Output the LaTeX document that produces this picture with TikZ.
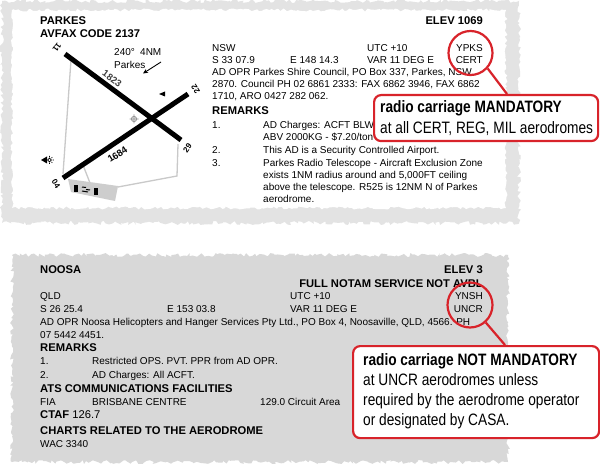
\documentclass[tikz,border=0pt]{standalone}
\usepackage{fontspec}
\setmainfont{Liberation Sans}
\newfontfamily\narrowfont[FakeStretch=0.83]{Liberation Sans}
\usetikzlibrary{decorations.pathmorphing,arrows.meta}
\definecolor{calred}{HTML}{D8232A}
\definecolor{bandgray}{HTML}{E3E3E3}
\definecolor{panelgray}{HTML}{D8D8D8}
\definecolor{lightline}{HTML}{C9C9C9}
\definecolor{aprongray}{HTML}{CDCDCD}
\tikzset{
  txt/.style={anchor=base west, inner sep=0pt, font=\fontsize{10bp}{12bp}\selectfont},
  txtr/.style={txt, anchor=base east},
  hd/.style={anchor=base west, inner sep=0pt, font=\fontsize{11.2bp}{13bp}\selectfont\bfseries},
  hdr/.style={hd, anchor=base east},
  rwy/.style={line width=5bp, black},
  rwylbl/.style={inner sep=0pt, font=\fontsize{8bp}{9bp}\selectfont\bfseries},
  lenlbl/.style={inner sep=0pt, font=\fontsize{9.5bp}{10bp}\selectfont\bfseries},
  grayline/.style={draw=lightline, line width=1.3bp},
  callcirc/.style={circle, draw=calred, line width=2.2bp, inner sep=0pt},
  callbox/.style={draw=calred, fill=white, line width=2.2bp, rounded corners=7bp, inner sep=0pt, anchor=north west},
  calltxt/.style={anchor=base west, inner sep=0pt, font=\narrowfont\fontsize{16.5bp}{20bp}\selectfont},
  conn/.style={draw=calred, line width=2.2bp},
  ragged/.style={decorate, decoration={random steps, segment length=2.5bp, amplitude=#1}},
}
\begin{document}
\begin{tikzpicture}[x=1bp,y=-1bp]
\useasboundingbox (0,0) rectangle (600,465);
\fill[white] (0,0) rectangle (600,465);
% panels
\fill[bandgray, ragged=2bp] (2,1) rectangle (519,223);
\fill[white, ragged=1.5bp] (12,10) rectangle (506,208);
\fill[panelgray, ragged=2bp] (12,255) rectangle (508,462);

% ---------- aerodrome diagram ----------
\draw[grayline] (71,60) -- (63,174);
\draw[grayline] (83,165) -- (90,183);
\draw[grayline] (178,144) -- (177,176) -- (118,187);
\fill[aprongray] (68,179) -- (118,186) -- (115,201) -- (71,192) -- cycle;
\fill[black] (74,185) rectangle (77.5,192);
\fill[black] (94,188) rectangle (98,195);
\draw[black, line width=1bp] (82,187) -- (86,187.5) (86,189.5) -- (90,190) (82,191) -- (88,192);
\draw[rwy] (65,54) -- (181,140);
\draw[rwy] (63,178) -- (188,94);
\node[rwylbl, rotate=-126] (r11) at (57,47.5) {11};
\node[rwylbl, rotate=54] (r29) at (187.5,148) {29};
\node[rwylbl, rotate=123] (r22) at (195.5,89.5) {22};
\node[rwylbl, rotate=-57] (r04) at (56,184) {04};
\node[lenlbl, rotate=-36, text=black!75] (l1823) at (112,78.5) {1823};
\node[lenlbl, rotate=33] (l1684) at (117.5,154.5) {1684};
\node[txt] (brg) at (114,56) {240°};
\node[txt] (dist) at (140,56) {4NM};
\node[txt] (town) at (114,69) {Parkes};
\draw[-{Stealth[length=5bp,width=4.5bp]}, line width=0.9bp] (161,62) -- (143,73.5);
\fill[black] (159,94) -- (165,91.5) -- (165,96.5) -- cycle;
\draw[black!45, line width=0.8bp] (134,119) circle (2.6bp) (129.5,119) -- (138.5,119) (134,114.5) -- (134,123.5);
\fill[black] (41,160) -- (47,156.5) -- (47,163.5) -- cycle;
\draw[black, line width=0.7bp] (49.5,160) circle (1.8bp) (49.5,156) -- (49.5,157.2) (49.5,162.8) -- (49.5,164) (52.3,157.2) -- (51.4,158.1) (52.3,162.8) -- (51.4,161.9) (52.5,160) -- (53.8,160);

% ---------- top panel text ----------
\node[hd] (pk) at (40,24.5) {PARKES};
\node[hd] (avfax) at (40,38) {AVFAX CODE 2137};
\node[hdr] (elev1) at (483,25) {ELEV 1069};
\node[txt] (nsw) at (212,51.5) {NSW};
\node[txt] (utc1) at (367,51.5) {UTC +10};
\node[txtr] (ypks) at (483,51.5) {YPKS};
\node[txt] (lat1) at (212,63.5) {S 33 07.9};
\node[txt] (lon1) at (290,63.5) {E 148 14.3};
\node[txt] (var1) at (367,63.5) {VAR 11 DEG E};
\node[txtr] (cert) at (483,63.5) {CERT};
\node[txt] (opr1a) at (212,75.5) {AD OPR Parkes Shire Council, PO Box 337, Parkes, NSW};
\node[txt] (opr1b) at (212,88) {2870. Council PH 02 6861 2333: FAX 6862 3946, FAX 6862};
\node[txt] (opr1c) at (212,100) {1710, ARO 0427 282 062.};
\node[hd] (rem1) at (212,114.5) {REMARKS};
\node[txt] (n11) at (212,129) {1.};
\node[txt] (r1a) at (263,129) {AD Charges: ACFT BLW};
\node[txt] (r1b) at (263,141) {ABV 2000KG - \$7.20/ton};
\node[txt] (n12) at (212,154) {2.};
\node[txt] (r1c) at (263,154) {This AD is a Security Controlled Airport.};
\node[txt] (n13) at (212,167) {3.};
\node[txt] (r1d) at (263,167) {Parkes Radio Telescope - Aircraft Exclusion Zone};
\node[txt] (r1e) at (263,179) {exists 1NM radius around and 5,000FT ceiling};
\node[txt] (r1f) at (263,191) {above the telescope. R525 is 12NM N of Parkes};
\node[txt] (r1g) at (263,203) {aerodrome.};

% ---------- bottom panel text ----------
\node[hd] (noosa) at (40,273.5) {NOOSA};
\node[hdr] (elev2) at (483,273.5) {ELEV 3};
\node[hdr] (notam) at (483,287.5) {FULL NOTAM SERVICE NOT AVBL};
\node[txt] (qld) at (40,299.5) {QLD};
\node[txt] (utc2) at (290,299.5) {UTC +10};
\node[txtr] (ynsh) at (483,299.5) {YNSH};
\node[txt] (lat2) at (40,312) {S 26 25.4};
\node[txt] (lon2) at (167,312) {E 153 03.8};
\node[txt] (var2) at (290,312) {VAR 11 DEG E};
\node[txtr] (uncr) at (483,312) {UNCR};
\node[txt] (opr2a) at (40,325) {AD OPR Noosa Helicopters and Hanger Services Pty Ltd., PO Box 4, Noosaville, QLD, 4566. PH};
\node[txt] (opr2b) at (40,338) {07 5442 4451.};
\node[hd] (rem2) at (40,351.5) {REMARKS};
\node[txt] (n21) at (40,364.5) {1.};
\node[txt] (r2a) at (92,364.5) {Restricted OPS. PVT. PPR from AD OPR.};
\node[txt] (n22) at (40,378) {2.};
\node[txt] (r2b) at (92,378) {AD Charges: All ACFT.};
\node[hd] (ats) at (40,392) {ATS COMMUNICATIONS FACILITIES};
\node[txt] (fia) at (40,405) {FIA};
\node[txt] (bne) at (92,405) {BRISBANE CENTRE};
\node[txt] (freq) at (260,405) {129.0 Circuit Area};
\node[hd] (ctaf) at (40,418.5) {CTAF {\mdseries 126.7}};
\node[hd] (charts) at (40,434.5) {CHARTS RELATED TO THE AERODROME};
\node[txt] (wac) at (40,447) {WAC 3340};

% ---------- callouts ----------
\node[callcirc, minimum size=44bp] (c1) at (470.5,53) {};
\node[callbox, minimum width=224bp, minimum height=46bp] (b1) at (373,94) {};
\draw[conn] (c1.-42) -- ([xshift=134bp]b1.north west);
\node[calltxt] (b1l1) at (380,113) {\bfseries radio carriage MANDATORY};
\node[calltxt] (b1l2) at (380,134) {at all CERT, REG, MIL aerodromes};

\node[callcirc, minimum size=45bp] (c2) at (470,305) {};
\node[callbox, minimum width=246bp, minimum height=92bp] (b2) at (352,345) {};
\draw[conn] (c2.-48) -- ([xshift=153bp]b2.north west);
\node[calltxt] (b2l1) at (363,365) {\bfseries radio carriage NOT MANDATORY};
\node[calltxt] (b2l2) at (363,385) {at UNCR aerodromes unless};
\node[calltxt] (b2l3) at (363,405.5) {required by the aerodrome operator};
\node[calltxt] (b2l4) at (363,425.5) {or designated by CASA.};
\end{tikzpicture}
\end{document}
